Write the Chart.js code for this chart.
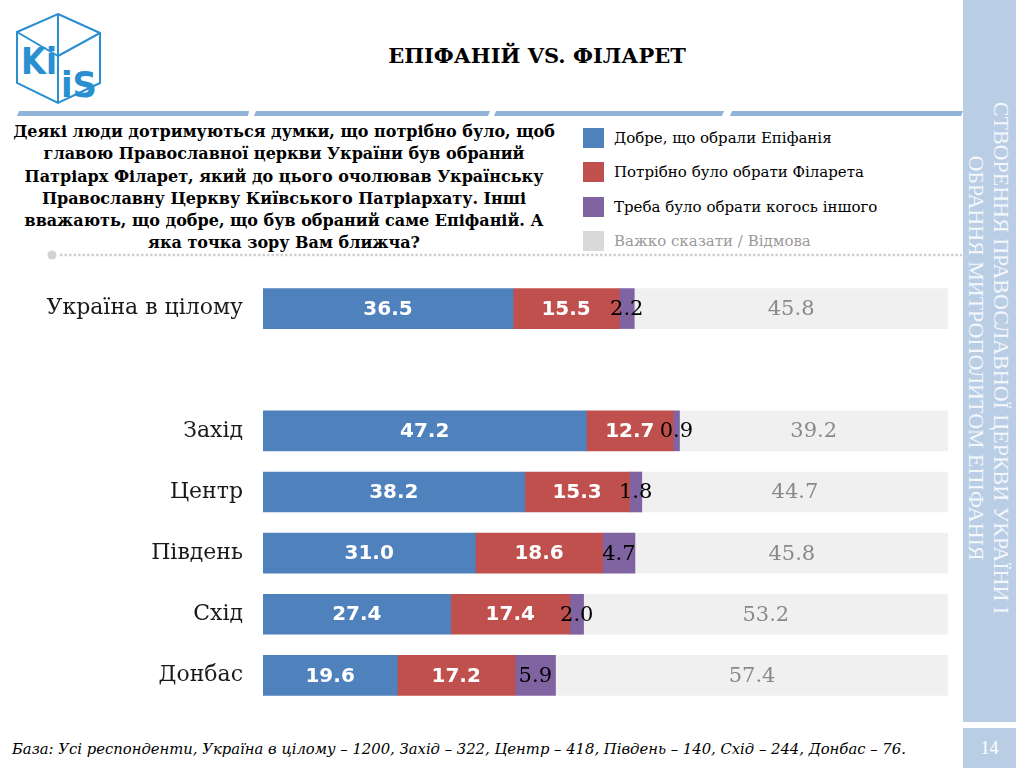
<!DOCTYPE html>
<html>
<head>
<meta charset="utf-8">
<script src="https://cdn.jsdelivr.net/npm/chart.js@4.4.1/dist/chart.umd.min.js"></script>
<style>
  html,body{margin:0;padding:0;background:#fff;width:1024px;height:768px;overflow:hidden;position:relative;}
  .abs{position:absolute;}
  #title{left:330px;top:43px;width:414px;text-align:center;font:bold 21px "DejaVu Serif";color:#000;}
  #question{left:4px;top:121px;width:560px;text-align:center;font:bold 16px "DejaVu Serif";line-height:22.3px;color:#000;white-space:nowrap;}
  .leg{left:583px;width:380px;height:21px;}
  .leg .sw{position:absolute;left:0;top:0;width:21px;height:20px;}
  .leg .tx{position:absolute;left:31px;top:0;font:15px "DejaVu Serif";line-height:20px;color:#000;white-space:nowrap;}
  #side{left:963px;top:0;width:53px;height:722px;background:#b9cde5;}
  #side2{left:963px;top:728px;width:53px;height:40px;background:#b9cde5;color:#fff;font:18px "Liberation Serif";text-align:center;line-height:40px;}
  #sidetext{left:989px;top:358px;width:640px;transform:translate(-50%,-50%) rotate(90deg);text-align:center;font:22px "Liberation Serif";color:#f4f7fb;line-height:25px;white-space:nowrap;}
  #footer{left:12px;top:740px;font:italic 14.8px "DejaVu Serif";color:#000;white-space:nowrap;}
  #chartbox{left:0;top:270px;width:960px;height:445px;}
</style>
</head>
<body>
<svg class="abs" style="left:0;top:0" width="1024" height="270">
  <!-- logo -->
  <g stroke="#2a8fd0" stroke-width="2" fill="none">
    <polygon points="58,14 100,33 100,83 58,103 17,83 17,32"/>
    <line x1="58" y1="14" x2="58" y2="56"/>
    <line x1="17" y1="32" x2="58" y2="56"/>
    <line x1="58" y1="56" x2="58" y2="103"/>
    <line x1="58" y1="56" x2="100" y2="33"/>
  </g>
  <text x="21" y="74" font-family="DejaVu Sans" font-weight="bold" font-size="38" fill="#2a8fd0" textLength="36" lengthAdjust="spacingAndGlyphs">Ki</text>
  <text x="61" y="97" font-family="DejaVu Sans" font-weight="bold" font-size="36" fill="#2a8fd0" textLength="36" lengthAdjust="spacingAndGlyphs">iS</text>
  <!-- header separators -->
  <g fill="#91b2d9">
    <polygon points="17,116 19,111 249,111 248,116"/>
    <polygon points="254,116 256,111 490,111 488,116"/>
    <polygon points="494,116 496,111 724,111 722,116"/>
    <polygon points="730,116 732,111 963,111 961,116"/>
  </g>
  <!-- dotted line -->
  <circle cx="52" cy="255" r="4.5" fill="#d2d2d2"/>
  <line x1="60" y1="255" x2="962" y2="255" stroke="#cfcfcf" stroke-width="2.5" stroke-dasharray="2.5,2"/>
</svg>

<div id="title" class="abs">ЕПІФАНІЙ VS. ФІЛАРЕТ</div>
<div id="question" class="abs">Деякі люди дотримуються думки, що потрібно було, щоб<br>главою Православної церкви України був обраний<br>Патріарх Філарет, який до цього очолював Українську<br>Православну Церкву Київського Патріархату. Інші<br>вважають, що добре, що був обраний саме Епіфаній. А<br>яка точка зору Вам ближча?</div>

<div id="legend"></div>

<div id="side" class="abs"></div>
<div id="sidetext" class="abs">СТВОРЕННЯ ПРАВОСЛАВНОЇ ЦЕРКВИ УКРАЇНИ І<br>ОБРАННЯ МИТРОПОЛИТОМ ЕПІФАНІЯ</div>
<div id="side2" class="abs">14</div>

<div id="footer" class="abs">База: Усі респонденти, Україна в цілому – 1200, Захід – 322, Центр – 418, Південь – 140, Схід – 244, Донбас – 76.</div>

<div id="chartbox" class="abs"><canvas id="c" width="960" height="445"></canvas></div>

<script>
const categories = ['Україна в цілому', '', 'Захід', 'Центр', 'Південь', 'Схід', 'Донбас'];
const seriesNames = ['Добре, що обрали Епіфанія', 'Потрібно було обрати Філарета', 'Треба було обрати когось іншого', 'Важко сказати / Відмова'];
const epiphanius = [36.5, null, 47.2, 38.2, 31.0, 27.4, 19.6];
const filaret    = [15.5, null, 12.7, 15.3, 18.6, 17.4, 17.2];
const other      = [2.2,  null, 0.9,  1.8,  4.7,  2.0,  5.9];
const hardToSay  = [45.8, null, 39.2, 44.7, 45.8, 53.2, 57.4];

const barColors    = ['#4f81bd', '#c0504d', '#8064a2', '#f0f0f0'];
const legendColors = ['#4f81bd', '#c0504d', '#8064a2', '#d9d9d9'];
const legendText   = ['#000', '#000', '#000', '#9a9a9a'];
const labelFonts   = ['bold 20px "DejaVu Sans"', 'bold 20px "DejaVu Sans"', '21px "DejaVu Serif"', '21px "DejaVu Serif"'];
const labelColors  = ['#ffffff', '#ffffff', '#000000', '#8a8a8a'];

// legend (HTML)
const legTops = [128, 162, 197, 231];
const legDiv = document.getElementById('legend');
seriesNames.forEach((n, i) => {
  const d = document.createElement('div');
  d.className = 'abs leg';
  d.style.top = legTops[i] + 'px';
  d.innerHTML = '<div class="sw" style="background:' + legendColors[i] + '"></div><div class="tx" style="color:' + legendText[i] + '">' + n + '</div>';
  legDiv.appendChild(d);
});

const valueLabels = {
  id: 'valueLabels',
  afterDatasetsDraw(chart) {
    const ctx = chart.ctx;
    ctx.save();
    ctx.textAlign = 'center';
    ctx.textBaseline = 'middle';
    chart.data.datasets.forEach((ds, i) => {
      const meta = chart.getDatasetMeta(i);
      ctx.font = labelFonts[i];
      ctx.fillStyle = labelColors[i];
      meta.data.forEach((el, j) => {
        const v = ds.data[j];
        if (v == null) return;
        const p = el.getProps(['x', 'y', 'base'], true);
        ctx.fillText(v.toFixed(1), (p.x + p.base) / 2, p.y + 1);
      });
    });
    ctx.restore();
  }
};

const allSeries = [epiphanius, filaret, other, hardToSay];
new Chart(document.getElementById('c'), {
  type: 'bar',
  data: {
    labels: categories,
    datasets: allSeries.map((d, i) => ({
      label: seriesNames[i],
      data: d,
      backgroundColor: barColors[i],
      borderWidth: 0,
      barThickness: 40
    }))
  },
  options: {
    indexAxis: 'y',
    responsive: false,
    devicePixelRatio: 1,
    animation: false,
    layout: { padding: { top: 8, bottom: 9, right: 12, left: 0 } },
    plugins: { legend: { display: false }, tooltip: { enabled: false } },
    scales: {
      x: { stacked: true, min: 0, max: 100, display: false },
      y: {
        stacked: true,
        grid: { display: false, drawTicks: false },
        border: { display: false },
        ticks: { font: { family: 'DejaVu Serif', size: 22 }, color: '#1a1a1a', padding: 20 },
        afterFit(s) { s.width = 263; s.paddingTop = 0; s.paddingBottom = 0; }
      }
    }
  },
  plugins: [valueLabels]
});
</script>
</body>
</html>
